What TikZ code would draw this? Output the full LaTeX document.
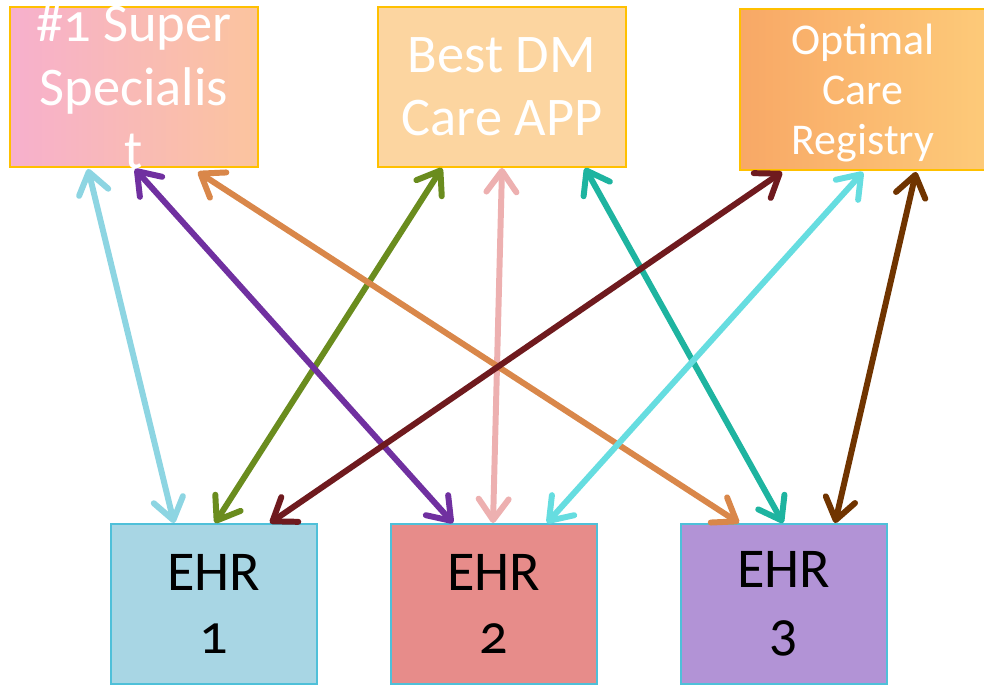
\documentclass[tikz,border=0pt]{standalone}
\usepackage{fontspec}
\setmainfont{Carlito}[Numbers=OldStyle]
\usetikzlibrary{arrows.meta,calc}

\definecolor{specpink}{HTML}{F7B0CD}
\definecolor{specpeach}{HTML}{FBC49E}
\definecolor{appfill}{HTML}{FCD5A0}
\definecolor{regleft}{HTML}{F8A866}
\definecolor{regright}{HTML}{FDCA79}
\definecolor{topline}{HTML}{FFC000}
\definecolor{ehrline}{HTML}{4FC0D9}
\definecolor{ehrblue}{HTML}{A8D6E4}
\definecolor{ehrred}{HTML}{E78C8A}
\definecolor{ehrviolet}{HTML}{B293D6}
\definecolor{cLightblue}{HTML}{8DD5E2}
\definecolor{cPurple}{HTML}{7030A0}
\definecolor{cOrange}{HTML}{D9874A}
\definecolor{cOlive}{HTML}{6A8C1E}
\definecolor{cPink}{HTML}{EDB0B0}
\definecolor{cTeal}{HTML}{1EB4A0}
\definecolor{cDarkred}{HTML}{6F1A1E}
\definecolor{cCyan}{HTML}{66DDE0}
\definecolor{cBrown}{HTML}{703400}

\tikzset{
  topbox/.style={draw=topline, line width=1.1pt, minimum width=4.96cm, minimum height=3.2cm, inner sep=0pt, outer sep=0pt},
  toptext/.style={text=white, align=center, font=\fontsize{31}{36}\selectfont},
  ehrbox/.style={draw=ehrline, line width=1.1pt, minimum width=4.12cm, minimum height=3.2cm, inner sep=0pt, outer sep=0pt, align=center, font=\fontsize{32}{36}\selectfont},
  link/.style={{Straight Barb[length=4.2mm,width=6mm,round]}-{Straight Barb[length=4.2mm,width=6mm,round]}, line width=3.4pt},
}

\begin{document}
\begin{tikzpicture}[x=0.02cm, y=-0.02cm]
      \useasboundingbox (0,0) rectangle (984,685);

      % top row
      \node[topbox, left color=specpink, middle color=specpink, right color=specpeach,
            label={[toptext]center:{\#1 Super\\Specialis\\t}}] (spec) at (134,87) {};
      \node[topbox, fill=appfill,
            label={[toptext]center:{Best DM\\Care APP}}] (app) at (502,87) {};
      \node[topbox, minimum width=4.92cm, minimum height=3.22cm, left color=regleft, middle color=regleft, right color=regright,
            label={[toptext, font=\fontsize{25}{28.5}\selectfont, yshift=-2pt]center:{Optimal\\Care\\Registry}}] (reg) at (863,89.5) {};

      % bottom row
      \node[ehrbox, fill=ehrblue] (ehr1) at (214,604) {EHR\\1};
      \node[ehrbox, fill=ehrred] (ehr2) at (494,604) {EHR\\2};
      \node[ehrbox, fill=ehrviolet] (ehr3) at (784,604) {EHR\\3};

      % links
      \draw[link, cLightblue] ($(spec.south west)+(78,2)$) -- ($(ehr1.north west)+(63,-1)$);
      \draw[link, cPink] ($(app.south west)+(124,1)$) -- ($(ehr2.north west)+(102,-1)$);
      \draw[link, cOlive] ($(app.south west)+(64,1)$) -- ($(ehr1.north west)+(104,-1)$);
      \draw[link, cTeal] ($(app.south west)+(207,1)$) -- ($(ehr3.north west)+(102,-1)$);
      \draw[link, cOrange] ($(spec.south west)+(188,5)$) -- ($(ehr3.north west)+(58,-1)$);
      \draw[link, cPurple] ($(spec.south west)+(125,2)$) -- ($(ehr2.north west)+(62,-1)$);
      \draw[link, cDarkred] ($(reg.south west)+(42,2)$) -- ($(ehr1.north west)+(159,-1)$);
      \draw[link, cCyan] ($(reg.south west)+(123,2)$) -- ($(ehr2.north west)+(156,-1)$);
      \draw[link, cBrown] ($(reg.south west)+(176,2)$) -- ($(ehr3.north west)+(154,-1)$);
    \end{tikzpicture}
\end{document}
